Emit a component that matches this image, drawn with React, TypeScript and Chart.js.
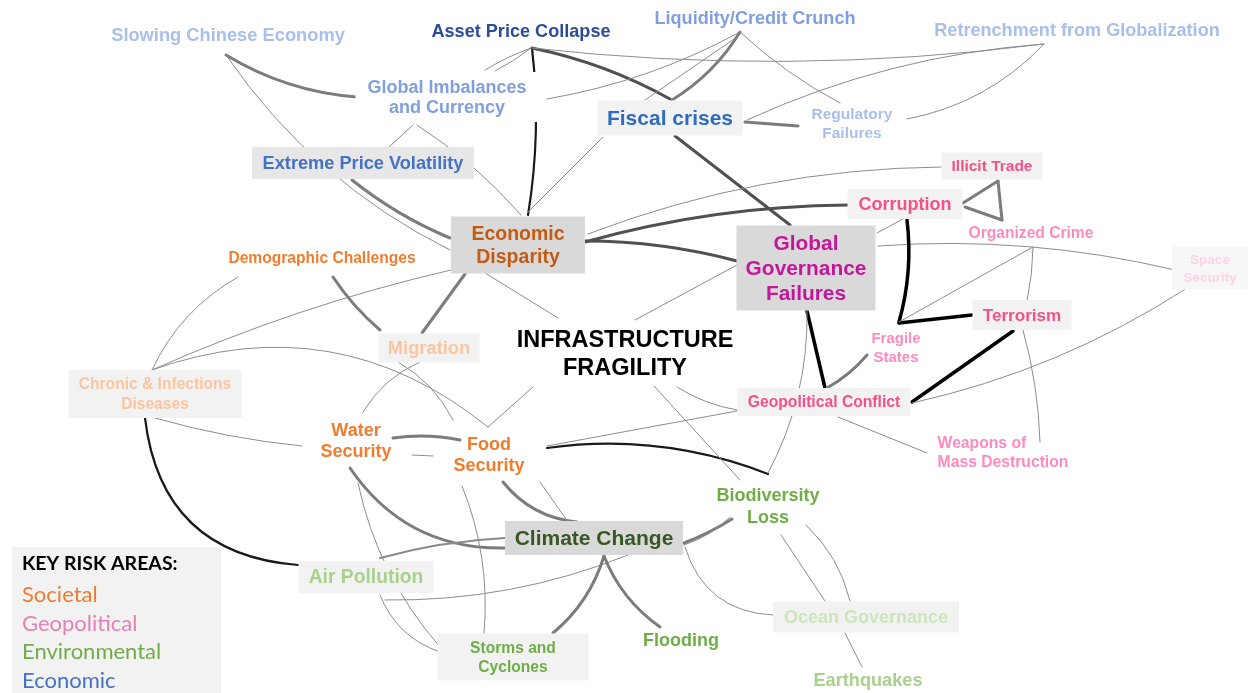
import React, { useEffect, useRef } from "react";
import { Chart, registerables } from "chart.js";
Chart.register(...registerables);

// ---------------- DATA ----------------
const nodeIds = ["SCE","APC","LCC","RFG","GIC","FC","RF","EPV","ED","GGF","IT","COR","OC","SS","TER","FS","GC","WMD","DC","MIG","CID","INF","WS","FOOD","BL","CC","AP","SC","FL","OG","EQ"];
const nodeLabels = [
  "Slowing Chinese Economy","Asset Price Collapse","Liquidity/Credit Crunch","Retrenchment from Globalization",
  "Global Imbalances\nand Currency","Fiscal crises","Regulatory\nFailures","Extreme Price Volatility",
  "Economic\nDisparity","Global\nGovernance\nFailures","Illicit Trade","Corruption","Organized Crime",
  "Space\nSecurity","Terrorism","Fragile\nStates","Geopolitical Conflict","Weapons of\nMass Destruction",
  "Demographic Challenges","Migration","Chronic & Infections\nDiseases","INFRASTRUCTURE\nFRAGILITY",
  "Water\nSecurity","Food\nSecurity","Biodiversity\nLoss","Climate Change","Air Pollution",
  "Storms and\nCyclones","Flooding","Ocean Governance","Earthquakes"
];
const nodeX = [228,521,755,1077,447,670,852,363,518,806,992,905,1031,1210,1022,896,824,1003,322,429,155,625,356,489,768,594,366,513,681,866,868];
const nodeY = [35,31,18,30,97,118,123,163,245,268,166,204,233,268,315,347,402,452,258,348,394,354,441,455,506,538,577,657,640,617,680];

const edgeFrom = ["SCE","SCE","GIC","GIC","APC","APC","APC","APC","FC","APC","LCC","LCC","LCC","LCC","FC","FC","RF","FC","EPV","ED","ED","ED","ED","ED","ED","DC","DC","CID","CID","CID","WS","WS","WS","WS","AP","FOOD","FOOD","FOOD","CC","CC","CC","CC","CC","CC","CC","FOOD","FOOD","INF","INF","INF","GGF","GGF","GC","GGF","GGF","GGF","COR","FS","FS","OC","COR","COR","IT","TER","TER","SS","GC","BL","BL","OG","MIG","MIG"];
const edgeTo   = ["GIC","ED","EPV","ED","GIC","GIC","ED","FC","GGF","RFG","GIC","FC","FC","RF","RF","RFG","RFG","ED","ED","GGF","COR","IT","INF","MIG","CID","MIG","CID","FOOD","WS","AP","FOOD","FOOD","CC","SC","SC","SC","CC","CC","AP","AP","SC","FL","BL","BL","OG","BL","GC","FOOD","BL","GC","INF","GC","FS","BL","COR","SS","FS","TER","OC","TER","IT","OC","OC","GC","WMD","GC","WMD","OG","OG","EQ","WS","FOOD"];
// 1 thin, 2 thick grey, 3 dark grey, 4 black, 5 heavy black, 6 medium grey
const edgeStrength = [2,1,1,1,1,1,4,3,3,1,1,1,2,1,2,1,1,1,2,3,3,1,1,2,1,2,1,1,1,4,2,1,2,1,1,1,2,1,6,1,2,2,2,1,1,4,1,1,1,1,1,5,2,1,1,1,5,5,1,1,2,2,2,5,1,1,1,1,1,1,1,1];

const legendTitle = "KEY RISK AREAS:";
const legendLabels = ["Societal","Geopolitical","Environmental","Economic"];
const legendColors = ["#ed7d31","#e580b6","#70ad47","#4472c4"];

// ---------------- LAYOUT / STYLE ----------------
// per edge: [from dx, from dy, to dx, to dy, bend] (offsets from node centre, in chart units)
const edgeGeom: number[][] = [
  [-2,20,-90,0,0.12],[-2,20,-68,5,0.13],[-34,28,25,-15,0],[-30,28,3,-30,-0.07],
  [10,17,38,-27,0.05],[10,17,48,-26,-0.05],[11,17,10,-30,-0.07],[11,17,0,-19,-0.077],
  [5,18,-16,-43,0],[11,17,-33,14,0.06],[-15,14,100,2,-0.083],[-18,19,-25,-18,0],
  [-15,14,2,-18,-0.12],[-15,14,-12,-20,0.066],[75,4,-54,3,0],[77,2,-33,14,-0.09],
  [55,-4,-34,15,0.16],[-67,19,9,-32,0],[-11,17,-68,-7,0.07],[67,-4,-69,-7,-0.065],
  [67,-3,-57,1,-0.067],[70,-11,-50,1,-0.09],[-33,28,-67,-36,0],[-53,29,-7,-15,0],
  [-67,25,-3,-24,0.048],[11,19,-49,-18,0.07],[-84,19,-3,-24,0.16],[-3,-24,-1,-28,-0.28],
  [0,24,-54,5,0.045],[-10,24,-68,-12,0.41],[37,-3,-29,-15,-0.09],[56,14,-56,1,0],
  [-6,27,-89,10,0.27],[2,42,-73,-10,0.13],[14,18,-73,-5,0.23],[-27,31,-29,-24,-0.12],
  [14,27,-17,-16,0.21],[51,27,-26,-16,0],[-89,0,14,-19,0.055],[34,17,19,23,-0.1],
  [10,18,40,-24,-0.15],[10,18,-21,-13,0.15],[90,5,-36,13,0.05],[90,7,-38,11,0.12],
  [91,9,-93,-2,0.35],[58,-7,0,-32,-0.13],[58,-9,-87,9,0],[-92,33,-1,-28,0],
  [29,32,-28,-26,0],[52,33,-87,8,0.1],[-69,-3,10,-34,0],[1,43,1,-14,0],
  [3,-14,-29,8,0.09],[1,43,0,-33,-0.13],[71,-35,-2,15,0],[72,-22,-35,2,-0.077],
  [2,16,3,-25,-0.1],[3,-24,-50,0,0],[3,-25,2,14,0],[2,15,5,-14,-0.05],
  [58,-1,6,15,0],[60,3,-29,-13,0],[6,15,-29,-13,0],[-9,16,88,0,0],
  [1,15,37,-10,-0.06],[-23,20,88,1,-0.09],[14,15,-76,1,0],[13,29,-41,-16,0],
  [38,19,-16,-16,-0.15],[-21,16,-6,-13,0],[-9,14,7,-29,0.16],[-31,14,-36,-35,-0.15]
];
const edgeStyles: Record<number, { w: number; c: string }> = {
  1: { w: 1, c: "#8c8c8c" },
  2: { w: 3, c: "#7c7c7c" },
  3: { w: 3, c: "#505050" },
  4: { w: 2.2, c: "#1a1a1a" },
  5: { w: 3.5, c: "#000000" },
  6: { w: 2, c: "#8a8a8a" },
};
type NS = { size: number; lh?: number; color: string; box?: [number, number, string]; block?: boolean; pad?: [number, number]; left?: boolean };
const nodeStyle: Record<string, NS> = {
  SCE: { size: 18.3, color: "#a8bfe9" },
  APC: { size: 18.1, color: "#2b4c9b" },
  LCC: { size: 18.1, color: "#809fdd" },
  RFG: { size: 18.1, color: "#a8bfe9" },
  GIC: { size: 18, lh: 20, color: "#809fdd", block: true, pad: [12, 5] },
  FC: { size: 21, color: "#2f6bbe", box: [145, 35, "#f2f2f2"] },
  RF: { size: 15.5, lh: 19, color: "#a8bfe9" },
  EPV: { size: 18.2, color: "#4472c4", box: [222, 32, "#e7e7e7"] },
  ED: { size: 19.5, lh: 23, color: "#c55a11", box: [134, 57, "#d9d9d9"] },
  GGF: { size: 20.9, lh: 25, color: "#c4169b", box: [139, 85, "#d9d9d9"] },
  IT: { size: 15.5, color: "#f5508a", box: [101, 27, "#f2f2f2"] },
  COR: { size: 18, color: "#f5508a", box: [115, 30, "#f2f2f2"] },
  OC: { size: 15.6, color: "#fd8bbd" },
  SS: { size: 13.5, lh: 18, color: "#fcd4e5", box: [76, 43, "#f7f7f7"] },
  TER: { size: 17.1, color: "#f5508a", box: [99, 30, "#f2f2f2"] },
  FS: { size: 15, lh: 19, color: "#fd8bbd" },
  GC: { size: 15.7, color: "#f5508a", box: [173, 28, "#f2f2f2"] },
  WMD: { size: 15.7, lh: 19, color: "#fd8bbd", left: true },
  DC: { size: 15.6, color: "#f07c2e" },
  MIG: { size: 18.3, color: "#fbc59f", box: [101, 29, "#f2f2f2"] },
  CID: { size: 15.6, lh: 20, color: "#fbc59f", box: [173, 48, "#f2f2f2"] },
  INF: { size: 23.5, lh: 28, color: "#000000" },
  WS: { size: 18, lh: 21, color: "#f07c2e" },
  FOOD: { size: 18, lh: 21, color: "#f07c2e" },
  BL: { size: 18, lh: 22, color: "#6fae46" },
  CC: { size: 21, color: "#385724", box: [178, 34, "#d9d9d9"] },
  AP: { size: 19.3, color: "#a8d18c", box: [135, 32, "#f2f2f2"] },
  SC: { size: 15.6, lh: 19, color: "#6fae46", box: [151, 47, "#f2f2f2"] },
  FL: { size: 18, color: "#6fae46" },
  OG: { size: 18, color: "#cde5bd", box: [186, 31, "#f2f2f2"] },
  EQ: { size: 18.2, color: "#a8d18c" },
};
const FONT = '"Liberation Sans", Arial, Helvetica, sans-serif';

const networkPlugin = {
  id: "network",
  beforeDatasetsDraw(chart: any) {
    const ctx: CanvasRenderingContext2D = chart.ctx;
    const xs = chart.scales.x, ys = chart.scales.y;
    const px = (v: number) => xs.getPixelForValue(v);
    const py = (v: number) => ys.getPixelForValue(v);
    const idx = (id: string) => nodeIds.indexOf(id);
    ctx.save();
    // legend panel
    const lx0 = px(12), ly0 = py(547), lx1 = px(221), ly1 = py(693);
    ctx.fillStyle = "#f2f2f2";
    ctx.fillRect(lx0, ly0, lx1 - lx0, ly1 - ly0);
    // edges
    ctx.lineCap = "round";
    for (let i = 0; i < edgeFrom.length; i++) {
      const s = idx(edgeFrom[i]), t = idx(edgeTo[i]);
      const g = edgeGeom[i];
      const st = edgeStyles[edgeStrength[i]];
      const x1 = px(nodeX[s] + g[0]), y1 = py(nodeY[s] + g[1]);
      const x2 = px(nodeX[t] + g[2]), y2 = py(nodeY[t] + g[3]);
      const dx = x2 - x1, dy = y2 - y1;
      const cx = (x1 + x2) / 2 - g[4] * dy, cy = (y1 + y2) / 2 + g[4] * dx;
      ctx.beginPath();
      ctx.moveTo(x1, y1);
      ctx.quadraticCurveTo(cx, cy, x2, y2);
      ctx.lineWidth = st.w;
      ctx.strokeStyle = st.c;
      ctx.stroke();
    }
    ctx.restore();
  },
  afterDatasetsDraw(chart: any) {
    const ctx: CanvasRenderingContext2D = chart.ctx;
    const xs = chart.scales.x, ys = chart.scales.y;
    const px = (v: number) => xs.getPixelForValue(v);
    const py = (v: number) => ys.getPixelForValue(v);
    ctx.save();
    ctx.textBaseline = "middle";
    nodeIds.forEach((id, i) => {
      const st = nodeStyle[id];
      const cx = px(nodeX[i]), cy = py(nodeY[i]);
      const lines = nodeLabels[i].split("\n");
      const lh = st.lh ?? st.size * 1.25;
      ctx.font = `bold ${st.size}px ${FONT}`;
      const maxW = Math.max(...lines.map((l) => ctx.measureText(l).width));
      if (st.box) {
        const [w, h, fill] = st.box;
        ctx.fillStyle = fill;
        ctx.fillRect(cx - w / 2, cy - h / 2, w, h);
      } else if (st.block) {
        const pad = st.pad ?? [4, 2];
        const w = maxW + pad[0] * 2;
        const h = lines.length * lh + pad[1] * 2;
        ctx.fillStyle = "#ffffff";
        ctx.fillRect(cx - w / 2, cy - h / 2, w, h);
      } else {
        lines.forEach((l, k) => {
          const ly = cy + (k - (lines.length - 1) / 2) * lh;
          const w = ctx.measureText(l).width + 6;
          const lx = st.left ? cx - maxW / 2 - 3 : cx - w / 2;
          ctx.fillStyle = "#ffffff";
          ctx.fillRect(lx, ly - st.size * 0.55, w, st.size * 1.1);
        });
      }
      ctx.fillStyle = st.color;
      ctx.textAlign = st.left ? "left" : "center";
      const tx = st.left ? cx - maxW / 2 : cx;
      lines.forEach((l, k) => {
        const ly = cy + (k - (lines.length - 1) / 2) * lh;
        ctx.fillText(l, tx, ly + 1);
      });
    });
    // legend text
    ctx.textAlign = "left";
    ctx.font = `bold 19.5px Lato, "Open Sans", sans-serif`;
    ctx.fillStyle = "#000000";
    ctx.fillText(legendTitle, px(22), py(564));
    ctx.font = `22px Lato, "Open Sans", sans-serif`;
    legendLabels.forEach((l, k) => {
      ctx.fillStyle = legendColors[k];
      ctx.fillText(l, px(22), py(595 + k * 28.5));
    });
    ctx.restore();
  },
};

export default function App() {
  const ref = useRef<HTMLCanvasElement | null>(null);
  useEffect(() => {
    if (!ref.current) return;
    const chart = new Chart(ref.current, {
      type: "scatter",
      data: {
        datasets: [
          {
            data: nodeIds.map((_, i) => ({ x: nodeX[i], y: nodeY[i] })),
            pointRadius: 0,
            pointHoverRadius: 0,
          },
        ],
      },
      options: {
        animation: false,
        responsive: true,
        maintainAspectRatio: false,
        layout: { padding: 0 },
        events: [],
        plugins: { legend: { display: false }, tooltip: { enabled: false } },
        scales: {
          x: { type: "linear", min: 0, max: 1248, display: false },
          y: { type: "linear", min: 0, max: 693, reverse: true, display: false },
        },
      },
      plugins: [networkPlugin],
    });
    return () => chart.destroy();
  }, []);
  return (
    <div style={{ position: "fixed", left: 0, top: 0, width: 1248, height: 693, background: "#ffffff" }}>
      <canvas ref={ref} />
    </div>
  );
}
